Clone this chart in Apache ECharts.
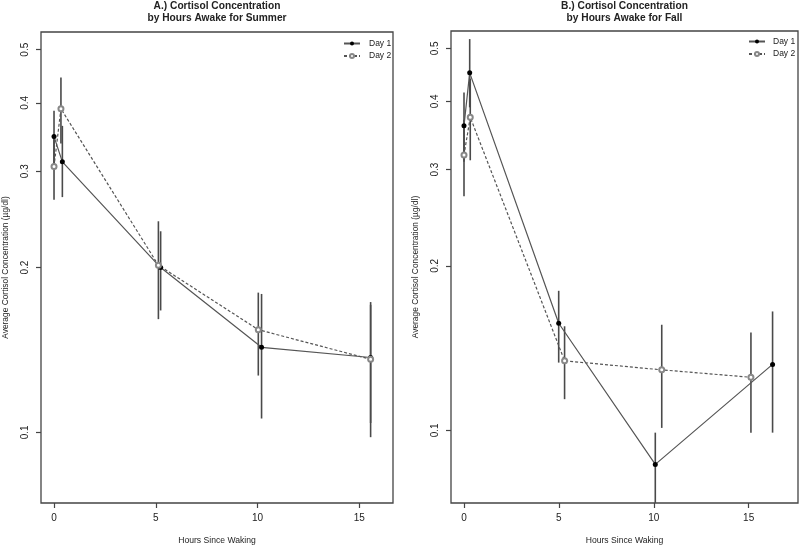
<!DOCTYPE html>
<html>
<head>
<meta charset="utf-8">
<script src="https://cdn.jsdelivr.net/npm/echarts@6/dist/echarts.min.js"></script>
<style>html,body{margin:0;padding:0;background:#fff}#c{width:800px;height:550px}</style>
</head>
<body>
<div id="c"></div>
<script>
// ---- Data ----
const panelTitles = ['A.) Cortisol Concentration\nby Hours Awake for Summer', 'B.) Cortisol Concentration\nby Hours Awake for Fall'];
const xTickValues = [0, 5, 10, 15];
const yTickValues = [0.1, 0.2, 0.3, 0.4, 0.5];
const xAxisTitle = 'Hours Since Waking';
const yAxisTitle = 'Average Cortisol Concentration (\u00b5g/dl)';
const seriesNames = ['Day 1', 'Day 2'];

// Summer
const summerDay1Hours = [0, 0.41, 5.24, 10.2, 15.56];
const summerDay1Mean  = [0.347, 0.312, 0.200, 0.143, 0.137];
const summerDay1Low   = [0.305, 0.269, 0.167, 0.106, 0.104];
const summerDay1High  = [0.387, 0.363, 0.233, 0.179, 0.171];
const summerDay2Hours = [0, 0.34, 5.13, 10.04, 15.56];
const summerDay2Mean  = [0.306, 0.390, 0.202, 0.154, 0.136];
const summerDay2Low   = [0.266, 0.337, 0.161, 0.127, 0.098];
const summerDay2High  = [0.350, 0.445, 0.243, 0.180, 0.173];

// Fall
const fallDay1Hours = [0, 0.30, 4.99, 10.08, 16.26];
const fallDay1Mean  = [0.361, 0.451, 0.157, 0.0866, 0.132];
const fallDay1Low   = [0.310, 0.390, 0.133, 0.072, 0.099];
const fallDay1High  = [0.415, 0.520, 0.180, 0.099, 0.165];
const fallDay2Hours = [0, 0.33, 5.30, 10.42, 15.12];
const fallDay2Mean  = [0.319, 0.374, 0.134, 0.129, 0.125];
const fallDay2Low   = [0.268, 0.312, 0.114, 0.101, 0.099];
const fallDay2High  = [0.370, 0.440, 0.155, 0.156, 0.151];

// ---- Chart ----
const FONT = 'Liberation Sans, Arial, Helvetica, sans-serif';
const TXT = '#222';
const AX = '#444';

function zip(xs, ys) { return xs.map((x, i) => [x, ys[i]]); }

let errCount = 0;
function errorBars(idx, hours, low, high) {
  errCount++;
  return {
    type: 'custom', name: 'errorbar' + errCount,
    xAxisIndex: idx, yAxisIndex: idx, silent: true, z: 1,
    data: hours.map((h, i) => [h, low[i], high[i]]),
    encode: { x: 0, y: [1, 2] },
    renderItem: function (params, api) {
      const x = api.value(0);
      const p1 = api.coord([x, api.value(1)]);
      const p2 = api.coord([x, api.value(2)]);
      const cs = params.coordSys;
      const clamp = v => Math.min(Math.max(v, cs.y), cs.y + cs.height);
      return { type: 'line', shape: { x1: p1[0], y1: clamp(p1[1]), x2: p2[0], y2: clamp(p2[1]) },
               style: { stroke: '#4a4a4a', lineWidth: 1.6 } };
    }
  };
}

function day1Line(idx, hours, mean) {
  return { type: 'line', name: seriesNames[0], xAxisIndex: idx, yAxisIndex: idx, z: 3,
    data: zip(hours, mean), symbol: 'circle', symbolSize: 5,
    lineStyle: { color: '#555', width: 1.2, type: 'solid' },
    itemStyle: { color: '#000' } };
}
function day2Line(idx, hours, mean) {
  return { type: 'line', name: seriesNames[1], xAxisIndex: idx, yAxisIndex: idx, z: 3,
    data: zip(hours, mean), symbol: 'emptyCircle', symbolSize: 5,
    lineStyle: { color: '#555', width: 1.2, type: [3, 2] },
    itemStyle: { color: '#888', borderWidth: 1 } };
}

const grids = [
  { left: 41, top: 32, width: 352, height: 476 },
  { left: 451, top: 31, width: 347, height: 472 }
];
const xRanges = [[-0.64, 16.66], [-0.685, 17.6]];
const yRanges = [[0.0743, 0.5387], [0.0736, 0.538]];

const option = {
  animation: false,
  backgroundColor: '#fff',
  textStyle: { fontFamily: FONT },
  title: panelTitles.map((t, i) => ({
    text: t, left: grids[i].left + grids[i].width / 2, top: 0, textAlign: 'center', padding: 0,
    textStyle: { fontFamily: FONT, fontSize: 10.2, fontWeight: 'bold', color: TXT, lineHeight: 12.3 }
  })),
  legend: [
    { data: seriesNames, orient: 'vertical', left: 343, top: 39, padding: 0, itemGap: 3.5, itemWidth: 16, itemHeight: 5,
      textStyle: { fontFamily: FONT, fontSize: 8.5, color: TXT, padding: [0, 0, 0, 4] } },
    { data: seriesNames, orient: 'vertical', left: 748, top: 37, padding: 0, itemGap: 3.5, itemWidth: 16, itemHeight: 5,
      textStyle: { fontFamily: FONT, fontSize: 8.5, color: TXT, padding: [0, 0, 0, 3] } }
  ],
  grid: grids.map(g => Object.assign({ show: true, borderColor: AX, borderWidth: 1.3, backgroundColor: 'transparent' }, g)),
  xAxis: [0, 1].map(i => ({
    type: 'value', gridIndex: i, min: xRanges[i][0], max: xRanges[i][1],
    name: xAxisTitle, nameLocation: 'middle', nameGap: 33,
    nameTextStyle: { fontFamily: FONT, fontSize: 8.6, color: TXT },
    axisLine: { show: false, onZero: false }, splitLine: { show: false },
    axisTick: { show: true, inside: false, length: 5, customValues: xTickValues, lineStyle: { color: AX, width: 1.2 } },
    axisLabel: { show: true, margin: 10, customValues: xTickValues, fontFamily: FONT, fontSize: 10, color: TXT }
  })),
  yAxis: [0, 1].map(i => ({
    type: 'log', logBase: 10, gridIndex: i, min: yRanges[i][0], max: yRanges[i][1],
    name: yAxisTitle, nameLocation: 'middle', nameGap: 31, nameRotate: 90,
    nameTextStyle: { fontFamily: FONT, fontSize: 8.4, color: TXT },
    axisLine: { show: false, onZero: false }, splitLine: { show: false }, minorTick: { show: false },
    axisTick: { show: true, inside: false, length: 5, customValues: yTickValues, lineStyle: { color: AX, width: 1.2 } },
    axisLabel: { show: true, margin: 11, rotate: 90, customValues: yTickValues, fontFamily: FONT, fontSize: 10, color: TXT,
      formatter: v => String(+(+v).toFixed(2)) }
  })),
  series: [
    errorBars(0, summerDay1Hours, summerDay1Low, summerDay1High),
    errorBars(0, summerDay2Hours, summerDay2Low, summerDay2High),
    errorBars(1, fallDay1Hours, fallDay1Low, fallDay1High),
    errorBars(1, fallDay2Hours, fallDay2Low, fallDay2High),
    day1Line(0, summerDay1Hours, summerDay1Mean),
    day2Line(0, summerDay2Hours, summerDay2Mean),
    day1Line(1, fallDay1Hours, fallDay1Mean),
    day2Line(1, fallDay2Hours, fallDay2Mean)
  ]
};

const chart = echarts.init(document.getElementById('c'), null, { renderer: 'canvas' });
chart.setOption(option);
</script>
</body>
</html>
